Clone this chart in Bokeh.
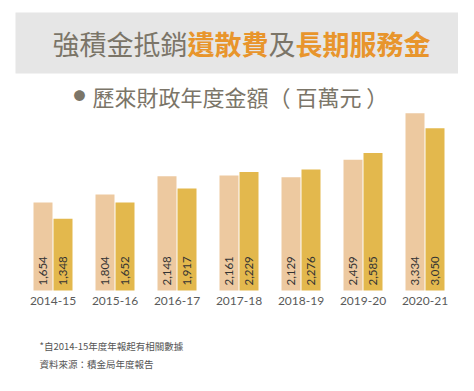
import math
from bokeh.plotting import figure
from bokeh.models import Range1d, ColumnDataSource, BoxAnnotation
from bokeh.core.properties import value
from bokeh.embed import file_html
from bokeh.resources import INLINE

years = ["2014-15", "2015-16", "2016-17", "2017-18", "2018-19", "2019-20", "2020-21"]
severance = [1654, 1804, 2148, 2161, 2129, 2459, 3334]   # 遺散費
long_service = [1348, 1652, 1917, 2229, 2276, 2585, 3050]  # 長期服務金

title_parts = [("強積金抵銷", "#7b7568", "normal"), ("遺散費", "#e8952c", "bold"),
               ("及", "#7b7568", "normal"), ("長期服務金", "#e8952c", "bold")]
subtitle = "歷來財政年度金額（ 百萬元 ）"
notes = ["*自2014-15年度年報起有相關數據", "資料來源：積金局年度報告"]

W, H = 458, 375
ppu = 0.0532          # pixels per unit (value axis)
base_px = 290         # baseline from top (px)
step_px = 62          # pixels per category
first_px = 52.5       # centre of first category (px)

x0 = -first_px / step_px
x1 = (W - first_px) / step_px
y0 = -(H - base_px) / ppu
y1 = base_px / ppu

def X(px):
    return x0 + px / W * (x1 - x0)

def Y(py):
    return y1 - py / H * (y1 - y0)

p = figure(width=W, height=H, output_backend="svg", toolbar_location=None,
           x_range=Range1d(x0, x1), y_range=Range1d(y0, y1),
           min_border=0, outline_line_color=None)
p.axis.visible = False
p.grid.visible = False
p.background_fill_color = "white"

idx = list(range(len(years)))
off = 10 / step_px
bw = 19 / step_px
src = ColumnDataSource(dict(
    x1=[i - off for i in idx], x2=[i + off for i in idx], xc=idx,
    a=severance, b=long_service,
    la=[f"{v:,}" for v in severance], lb=[f"{v:,}" for v in long_service],
    years=years))

p.vbar(x="x1", top="a", bottom=0, width=bw, source=src, color="#edc9a0", line_color=None)
p.vbar(x="x2", top="b", bottom=0, width=bw, source=src, color="#e3b84d", line_color=None)

lab_y = 5 / ppu
p.text(x="x1", y=lab_y, text="la", source=src, angle=math.pi / 2,
       text_align="left", text_baseline="middle", text_font=value("Lato"),
       text_font_size="11.5px", text_color="#333333")
p.text(x="x2", y=lab_y, text="lb", source=src, angle=math.pi / 2,
       text_align="left", text_baseline="middle", text_font=value("Lato"),
       text_font_size="11.5px", text_color="#333333")

p.text(x="xc", y=-10 / ppu, text="years", source=src, text_align="center",
       text_baseline="middle", text_font=value("Lato"), text_font_size="12px",
       text_color="#5a5a5a")

# title box
p.add_layout(BoxAnnotation(left=X(15), right=X(458), top=Y(12), bottom=Y(73),
                           fill_color="#e6e6e6", fill_alpha=1, line_color=None,
                           level="underlay"))
cx = 52
fs = 27
for txt, col, wt in title_parts:
    p.text(x=[X(cx)], y=[Y(43)], text=[txt], text_align="left", text_baseline="middle",
           text_font=value("Noto Sans CJK TC"), text_font_size=f"{fs}px",
           text_font_style=wt, text_color=col)
    cx += len(txt) * fs

p.text(x=[X(79)], y=[Y(95)], text=["●"], text_align="center", text_baseline="middle",
       text_font=value("Noto Sans CJK TC"), text_font_size="12px", text_color="#7b7568")
p.text(x=[X(92)], y=[Y(95)], text=[subtitle], text_align="left", text_baseline="middle",
       text_font=value("Noto Sans CJK TC"), text_font_size="22px", text_color="#7b7568")

for k, n in enumerate(notes):
    p.text(x=[X(39)], y=[Y(345 + 18 * k)], text=[n], text_align="left",
           text_baseline="middle", text_font=value("Noto Sans CJK TC"),
           text_font_size="9.5px", text_color="#555555")

open("out.html", "w").write(file_html(p, INLINE))
